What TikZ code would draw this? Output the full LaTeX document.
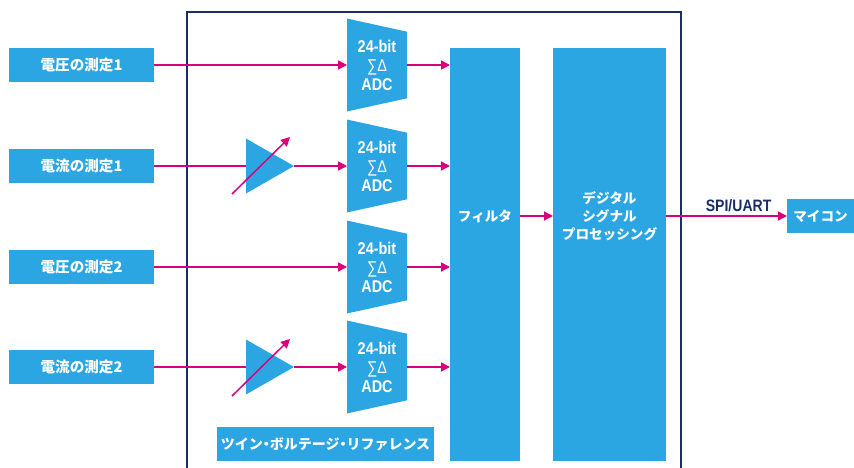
\documentclass[tikz,border=0pt]{standalone}
\usepackage{fontspec}
\usepackage{xcolor}
\setmainfont{Liberation Sans}
\newfontfamily\cjk{Noto Sans CJK JP}
\newfontfamily\narrow[FakeStretch=0.85]{Liberation Sans}
\usetikzlibrary{shapes.geometric, arrows.meta, positioning}
\definecolor{bluefill}{HTML}{2CA6E2}
\definecolor{pinkline}{HTML}{D9007E}
\definecolor{navyline}{HTML}{1B2C6B}

\begin{document}
\begin{tikzpicture}[x=1pt,y=-1pt,
        block/.style = {fill=bluefill, text=white, inner sep=0pt, outer sep=0pt, align=center, font=\cjk\bfseries\fontsize{13.6}{18}\selectfont},
        inbox/.style = {block, minimum width=145pt, minimum height=34pt, font=\cjk\bfseries\fontsize{14.6}{18}\selectfont},
        tall/.style = {block, minimum height=413pt},
        caption/.style = {text=white, inner sep=0pt, align=center, font=\cjk\bfseries\fontsize{13.6}{18}\selectfont},
        adc/.style = {trapezium, shape border rotate=270, trapezium stretches=true, trapezium left angle=75.5, trapezium right angle=75.5, minimum width=93pt, minimum height=60pt, fill=bluefill, text=white, inner sep=0pt, outer sep=0pt, align=center, font=\narrow\bfseries\fontsize{17}{19}\selectfont},
        amp/.style = {isosceles triangle, isosceles triangle stretches=true, minimum width=55pt, minimum height=48pt, fill=bluefill, inner sep=0pt, outer sep=0pt, anchor=lower side},
        sig/.style = {draw=pinkline, line width=1.5pt, -{Triangle[length=9pt,width=9pt]}},
        link/.style = {draw=pinkline, line width=1.5pt}]
        \useasboundingbox (0,0) rectangle (854,468);
        \node[inbox] (in1) at (81.5,65) {電圧の測定1};
        \node[inbox] (in2) at (81.5,166) {電流の測定1};
        \node[inbox] (in3) at (81.5,267) {電圧の測定2};
        \node[inbox] (in4) at (81.5,367) {電流の測定2};
        \node[amp] (amp1) at (246,166) {};
        \node[amp] (amp2) at (246,367) {};
        \node[adc] (adc1) at (377,65) {24-bit\\{\narrow\mdseries ∑Δ}\\ADC};
        \node[adc] (adc2) at (377,166) {24-bit\\{\narrow\mdseries ∑Δ}\\ADC};
        \node[adc] (adc3) at (377,267) {24-bit\\{\narrow\mdseries ∑Δ}\\ADC};
        \node[adc] (adc4) at (377,367) {24-bit\\{\narrow\mdseries ∑Δ}\\ADC};
        \node[tall, minimum width=70pt] (filter) at (485,254.5) {};
        \node[tall, minimum width=113pt] (dsp) at (609.5,254.5) {};
        \node[caption] (filtertext) at (485,216) {フィルタ};
        \node[caption] (dsptext) at (609.5,216) {デジタル\\シグナル\\プロセッシング};
        \node[block, minimum width=67pt, minimum height=34pt] (mcu) at (820.5,216) {マイコン};
        \node[block, minimum width=217pt, minimum height=34pt, font=\cjk\bfseries\fontsize{14}{18}\selectfont] (vref) at (325.5,444) {ツイン\hspace{-.25em}・\hspace{-.25em}ボルテージ\hspace{-.25em}・\hspace{-.25em}リファレンス};
        \coordinate (frameA) at (187,468);
        \coordinate (frameB) at (187,12);
        \coordinate (frameC) at (681,12);
        \coordinate (frameD) at (681,468);
        \draw[navyline, line width=1.5pt] (frameA) -- (frameB) -- (frameC) -- (frameD);
        \draw[sig] (in1.east) -- (in1.east -| adc1.west);
        \draw[link] (in2.east) -- (in2.east -| amp1.lower side);
        \draw[sig] (amp1.apex) -- (amp1.apex -| adc2.west);
        \draw[sig] (in3.east) -- (in3.east -| adc3.west);
        \draw[link] (in4.east) -- (in4.east -| amp2.lower side);
        \draw[sig] (amp2.apex) -- (amp2.apex -| adc4.west);
        \draw[sig] (adc1.east) -- (adc1.east -| filter.west);
        \draw[sig] (adc2.east) -- (adc2.east -| filter.west);
        \draw[sig] (adc3.east) -- (adc3.east -| filter.west);
        \draw[sig] (adc4.east) -- (adc4.east -| filter.west);
        \draw[sig] (filter.east |- mcu.west) -- (dsp.west |- mcu.west);
        \draw[sig] (dsp.east |- mcu.west) -- node[pos=.6, above=0pt, text=navyline, font=\narrow\bfseries\fontsize{16.5}{18}\selectfont] (spi) {SPI/UART} (mcu.west);
        \coordinate (tuneA) at (232,194);
        \coordinate (tuneB) at (290,137);
        \coordinate (tuneC) at (232,396);
        \coordinate (tuneD) at (290,339);
        \draw[sig] (tuneA) -- (tuneB);
        \draw[sig] (tuneC) -- (tuneD);
\end{tikzpicture}
\end{document}
